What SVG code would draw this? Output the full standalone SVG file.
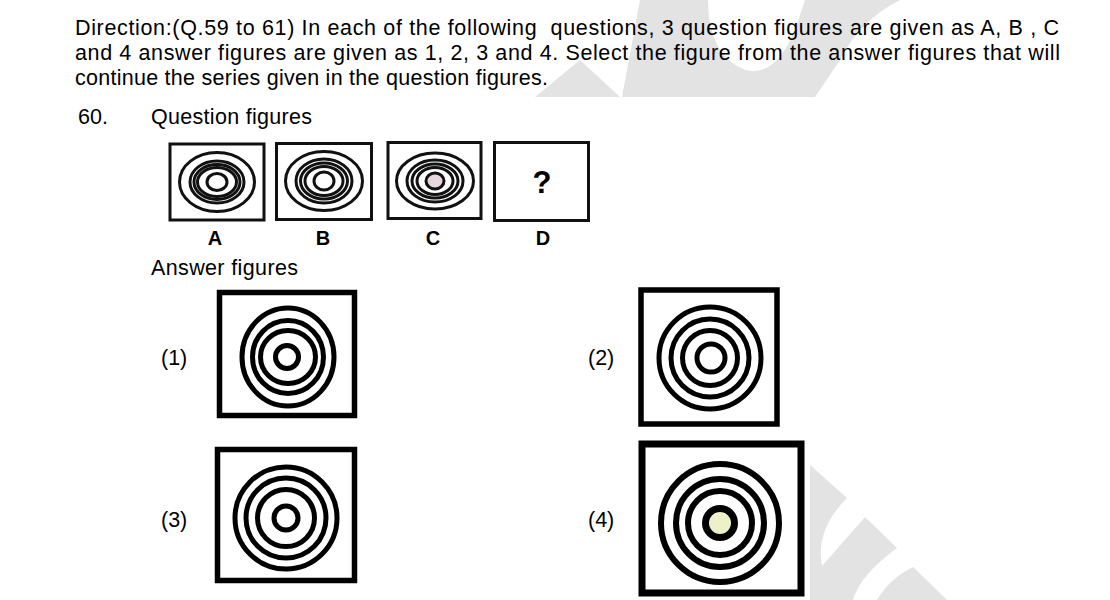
<svg xmlns="http://www.w3.org/2000/svg" width="1110" height="600" viewBox="0 0 1110 600">
<style>
.t{font-family:"Liberation Sans",Arial,sans-serif;fill:#000}
.dir{font-size:21.5px}
.lab{font-size:21.5px}
.ql{font-size:20px;font-weight:bold}
.qb{fill:none;stroke:#111;stroke-width:3}
.qr{fill:none;stroke:#111;stroke-width:3}
.ab{fill:none;stroke:#000;stroke-width:5.5}
.ar{fill:none;stroke:#000;stroke-width:5}
.wm{fill:#e3e3e3}
</style>
<rect width="1110" height="600" fill="#fff"/>
<g id="watermark">
<path class="wm" d="M535,97 L580,60 L620,97 Z"/>
<path class="wm" d="M640,0 L708,0 Q708,55 745,70 Q775,78 795,30 L805,0 L900,0 Q860,20 840,60 L815,97 L622,97 Z"/>
<path class="wm" d="M810,465 L847,498 Q815,530 822,566 L865,517 L897,548 Q860,575 853,600 L810,600 Z"/>
<path class="wm" d="M913,567 L947,600 L877,600 Q890,578 913,567 Z"/>
</g>
<g id="direction">
<text class="t dir" x="75" y="35" textLength="984" lengthAdjust="spacing" xml:space="preserve">Direction:(Q.59 to 61) In each of the following  questions, 3 question figures are given as A, B , C</text>
<text class="t dir" x="75" y="60" textLength="985" lengthAdjust="spacing">and 4 answer figures are given as 1, 2, 3 and 4. Select the figure from the answer figures that will</text>
<text class="t dir" x="75" y="85" textLength="473" lengthAdjust="spacing">continue the series given in the question figures.</text>
</g>
<g id="heading">
<text class="t lab" x="78" y="124">60.</text>
<text class="t lab" x="151" y="124" textLength="161" lengthAdjust="spacing">Question figures</text>
<text class="t lab" x="151" y="275" textLength="147" lengthAdjust="spacing">Answer figures</text>
</g>
<g id="qA">
<rect class="qb" x="170" y="144" width="94" height="76"/>
<ellipse class="qr" cx="217" cy="182" rx="37.5" ry="29.5"/>
<ellipse class="qr" cx="217" cy="182" rx="27" ry="21"/>
<ellipse class="qr" cx="217" cy="182" rx="23" ry="17.5"/>
<ellipse class="qr" cx="217" cy="182" rx="19.5" ry="14.5"/>
<ellipse class="qr" cx="217" cy="182" rx="10" ry="8.5"/>
<text class="t ql" x="215" y="245" text-anchor="middle">A</text>
</g>
<g id="qB">
<rect class="qb" x="276.5" y="143.5" width="95" height="76"/>
<ellipse class="qr" cx="324" cy="181" rx="38.5" ry="29.5"/>
<ellipse class="qr" cx="324" cy="181" rx="28" ry="22"/>
<ellipse class="qr" cx="324" cy="181" rx="23.5" ry="18"/>
<ellipse class="qr" cx="324" cy="181" rx="19" ry="14.5"/>
<ellipse class="qr" cx="324" cy="181" rx="10" ry="9"/>
<text class="t ql" x="323" y="245" text-anchor="middle">B</text>
</g>
<g id="qC">
<rect class="qb" x="388" y="142.5" width="93" height="76"/>
<ellipse class="qr" cx="435" cy="181" rx="38.5" ry="28"/>
<ellipse class="qr" cx="435" cy="181" rx="28" ry="21"/>
<ellipse class="qr" cx="435" cy="181" rx="23" ry="17"/>
<ellipse class="qr" cx="435" cy="181" rx="18" ry="13.5"/>
<ellipse cx="435" cy="181" rx="9" ry="8" fill="#e8d6de" stroke="#111" stroke-width="3"/>
<text class="t ql" x="433" y="245" text-anchor="middle">C</text>
</g>
<g id="qD">
<rect class="qb" x="494.5" y="142.5" width="94" height="78"/>
<text class="t" x="542" y="193" text-anchor="middle" font-size="31" font-weight="bold">?</text>
<text class="t ql" x="543" y="245" text-anchor="middle">D</text>
</g>
<g id="ans1">
<text class="t lab" x="161" y="365">(1)</text>
<rect class="ab" x="219.5" y="292.5" width="135" height="123"/>
<ellipse class="ar" cx="288" cy="357" rx="46" ry="49"/>
<ellipse class="ar" cx="288" cy="357" rx="35.5" ry="36.5"/>
<ellipse class="ar" cx="288" cy="357" rx="27.5" ry="26.5"/>
<circle class="ar" cx="287" cy="357" r="11.5"/>
</g>
<g id="ans2">
<text class="t lab" x="588" y="365">(2)</text>
<rect class="ab" x="641" y="290" width="136" height="134"/>
<circle class="ar" cx="710" cy="358" r="51"/>
<circle class="ar" cx="710" cy="358" r="39"/>
<circle class="ar" cx="710" cy="358" r="27.5"/>
<circle class="ar" cx="711" cy="358" r="14"/>
</g>
<g id="ans3">
<text class="t lab" x="161" y="527">(3)</text>
<rect class="ab" x="217.5" y="449.5" width="137" height="131"/>
<circle class="ar" cx="286" cy="518" r="51"/>
<circle class="ar" cx="286" cy="518" r="40"/>
<circle class="ar" cx="286" cy="518" r="28.5"/>
<circle class="ar" cx="286" cy="518" r="12"/>
</g>
<g id="ans4">
<text class="t lab" x="588" y="527">(4)</text>
<rect fill="none" stroke="#000" stroke-width="7" x="642" y="444" width="159" height="149"/>
<circle fill="none" stroke="#000" stroke-width="6" cx="720" cy="523" r="59"/>
<circle fill="none" stroke="#000" stroke-width="6" cx="720" cy="523" r="44"/>
<circle fill="none" stroke="#000" stroke-width="6" cx="720" cy="523" r="32"/>
<circle cx="720" cy="523" r="14.5" fill="#eef0c8" stroke="#000" stroke-width="7"/>
</g>
</svg>
